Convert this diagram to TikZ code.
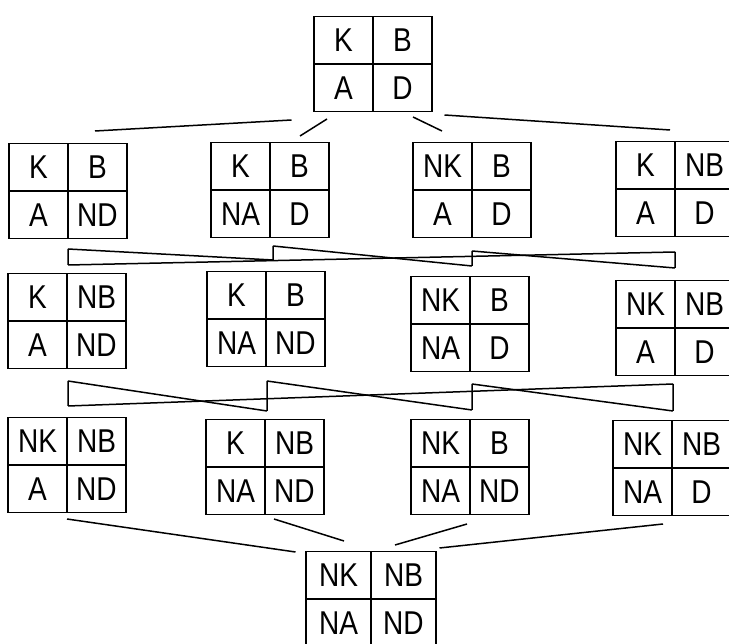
\documentclass[tikz,border=0pt]{standalone}
\usepackage{fontspec}
\newfontfamily\cellfont{Liberation Sans}[FakeStretch=0.85]
\usetikzlibrary{matrix,calc}

\begin{document}
\begin{tikzpicture}[x=1pt,y=-1pt,line width=1.5pt,
  cell/.style={draw,minimum width=59pt,minimum height=47.5pt,inner sep=0pt,
    font=\cellfont\fontsize{33}{33}\selectfont},
  quad/.style={matrix of nodes,inner sep=0pt,nodes={cell},
    column sep=-1.5pt,row sep=-1.5pt}]
  \useasboundingbox (0,0) rectangle (729,644);

  % the four boxes, row by row
  \matrix (kbad) [quad] at (373,64) {K & B \\ A & D \\};

  \matrix (nd) [quad] at (68,191) {K & B \\ A & ND \\};
  \matrix (na) [quad] at (270,190) {K & B \\ NA & D \\};
  \matrix (nk) [quad] at (472,190) {NK & B \\ A & D \\};
  \matrix (nb) [quad] at (675,189) {K & NB \\ A & D \\};

  \matrix (nbnd) [quad] at (67,321) {K & NB \\ A & ND \\};
  \matrix (nand) [quad] at (266,319) {K & B \\ NA & ND \\};
  \matrix (nkna) [quad] at (470,324) {NK & B \\ NA & D \\};
  \matrix (nknb) [quad] at (675,328) {NK & NB \\ A & D \\};

  \matrix (nknbnd) [quad] at (67,465) {NK & NB \\ A & ND \\};
  \matrix (nbnand) [quad] at (265,467) {K & NB \\ NA & ND \\};
  \matrix (nknand) [quad] at (470,467) {NK & B \\ NA & ND \\};
  \matrix (nknbna) [quad] at (672,468) {NK & NB \\ NA & D \\};

  \matrix (nall) [quad,nodes={minimum width=65pt}] at (371,599) {NK & NB \\ NA & ND \\};

  % top box down to the first row
  \draw ($(kbad.south west)+(-21,7)$) -- ($(nd.north)+(27,-11)$);
  \draw ($(kbad.south)+(-46,6)$) -- ($(na.north)+(30,-5)$);
  \draw ($(kbad.south)+(40,4)$) -- ($(nk.north)+(-30,-10)$);
  \draw ($(kbad.south east)+(11,2)$) -- ($(nb.north)+(-5,-10)$);

  % ends of the links between the middle rows
  \coordinate (nd-s) at ($(nd.south)+(0,9)$);
  \coordinate (na-s) at ($(na.south)+(3,7)$);
  \coordinate (nk-s) at ($(nk.south)+(0,12)$);
  \coordinate (nb-s) at ($(nb.south)+(0,14)$);
  \coordinate (nbnd-n) at ($(nbnd.north)+(1,-7)$);
  \coordinate (nand-n) at ($(nand.north)+(7,-10)$);
  \coordinate (nkna-n) at ($(nkna.north)+(2,-9)$);
  \coordinate (nknb-n) at ($(nknb.north)+(0,-11)$);

  \coordinate (nbnd-s) at ($(nbnd.south)+(1,11)$);
  \coordinate (nand-s) at ($(nand.south)+(1,13)$);
  \coordinate (nkna-s) at ($(nkna.south)+(2,11)$);
  \coordinate (nknb-s) at ($(nknb.south)+(-2,7)$);
  \coordinate (nknbnd-n) at ($(nknbnd.north)+(1,-10)$);
  \coordinate (nbnand-n) at ($(nbnand.north)+(2,-7)$);
  \coordinate (nknand-n) at ($(nknand.north)+(2,-8)$);
  \coordinate (nknbna-n) at ($(nknbna.north)+(1,-8)$);

  % first row to second row
  \draw (nd-s) -- (nbnd-n) (nd-s) -- (nand-n);
  \draw (na-s) -- (nand-n) (na-s) -- (nkna-n);
  \draw (nk-s) -- (nkna-n) (nk-s) -- (nknb-n);
  \draw (nb-s) -- (nknb-n) (nb-s) -- (nbnd-n);

  % second row to third row
  \draw (nbnd-s) -- (nknbnd-n) (nbnd-s) -- (nbnand-n);
  \draw (nand-s) -- (nbnand-n) (nand-s) -- (nknand-n);
  \draw (nkna-s) -- (nknand-n) (nkna-s) -- (nknbna-n);
  \draw (nknb-s) -- (nknbna-n) (nknb-s) -- (nknbnd-n);

  % third row down to the last box
  \draw ($(nknbnd.south)+(0,5)$) -- ($(nall.north west)+(-9,2)$);
  \draw ($(nbnand.south)+(9,3)$) -- ($(nall.north)+(-27,-9)$);
  \draw ($(nknand.south)+(-3,8)$) -- ($(nall.north)+(24,-5)$);
  \draw ($(nknbna.south)+(-9,7)$) -- ($(nall.north east)+(2,-2)$);
\end{tikzpicture}
\end{document}
